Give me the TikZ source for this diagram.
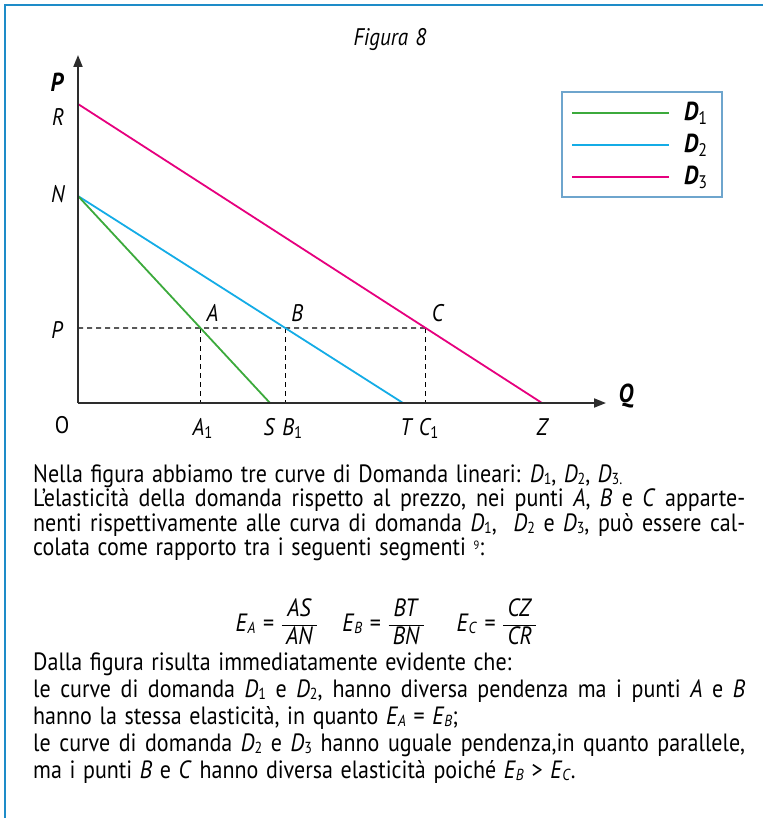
\documentclass[tikz,border=0pt]{standalone}
\usepackage{fontspec}
\usepackage{amsmath}
\setmainfont{PT Sans}[FakeStretch=0.88,WordSpace=1.3]
\usetikzlibrary{arrows.meta,calc}
\definecolor{frameblue}{RGB}{30,140,200}
\definecolor{boxblue}{RGB}{110,165,205}
\definecolor{dgreen}{RGB}{60,170,60}
\definecolor{dcyan}{RGB}{20,172,230}
\definecolor{dmagenta}{RGB}{230,0,126}
\definecolor{axisgray}{RGB}{45,45,45}
\newcommand{\lowsub}[1]{\raisebox{-2.5pt}{\fontsize{16}{16}\selectfont #1}}
\newcommand{\Dsub}[1]{\textit{D}\lowsub{#1}}
\newcommand{\Esub}[1]{\textit{E}\lowsub{\textit{#1}}}
\newcommand{\ratio}[2]{{\renewcommand{\arraystretch}{1.1}\setlength{\arrayrulewidth}{1pt}%
  \begin{tabular}[c]{@{\,}c@{\,}}\textit{#1}\\\hline\textit{#2}\end{tabular}}}
\newcommand{\fullline}[1]{\makebox[712pt][s]{#1}}

\begin{document}
\begin{tikzpicture}[x=1pt,y=-1pt,
  lbl/.style={font=\fontsize{24}{26}\selectfont\itshape,inner sep=0pt},
  axlbl/.style={font=\fontsize{26}{28}\selectfont\bfseries\itshape,inner sep=0pt},
  axis/.style={axisgray,line width=1.8pt,-{Triangle[length=12pt,width=9pt]}},
  guide/.style={black,line width=1.2pt,dash pattern=on 5pt off 4pt},
  curve/.style={line width=1.8pt},
  txt/.style={anchor=base west,inner sep=0pt,font=\fontsize{25}{24.5}\selectfont}]
\useasboundingbox (0,0) rectangle (763,818);
\draw[frameblue,line width=2.6pt] (5,818) -- (5,5) -- (763,5);
\node[lbl] (fig) at (390,40) {Figura 8};

\coordinate (O) at (78,403);
\coordinate (R) at (78,104);
\coordinate (N) at (78,196);
\coordinate (Pp) at (78,328);
\coordinate (Pr) at (700,328);
\coordinate (S) at (270,403);
\coordinate (T) at (403,403);
\coordinate (Z) at (542,403);
\coordinate (Ptop) at (78,55);
\coordinate (Qend) at (606,403);
\coordinate (A) at (intersection of N--S and Pp--Pr);
\coordinate (B) at (intersection of N--T and Pp--Pr);
\coordinate (C) at (intersection of R--Z and Pp--Pr);

\draw[guide] (Pp) -- (C);
\draw[guide] (A) -- (A |- O);
\draw[guide] (B) -- (B |- O);
\draw[guide] (C) -- (C |- O);
\draw[curve,dmagenta] (R) -- (Z);
\draw[curve,dcyan] (N) -- (T);
\draw[curve,dgreen] (N) -- (S);
\draw[axis] (O) -- (Ptop);
\draw[axis] (O) -- (Qend);

\node[axlbl] (axP) at (57,82) {P};
\node[axlbl] (axQ) at (626,396) {Q};
\node[lbl] (lR) at (58,117) {R};
\node[lbl] (lN) at (58,194) {N};
\node[lbl] (lP) at (57,330) {P};
\node[lbl,font=\fontsize{24}{26}\selectfont] (lO) at (62,425) {O};
\node[lbl,anchor=south west] (lA) at ($(A)+(6,-6)$) {A};
\node[lbl,anchor=south west] (lB) at ($(B)+(6,-6)$) {B};
\node[lbl,anchor=south west] (lC) at ($(C)+(6,-6)$) {C};
\node[lbl,anchor=base west] (lA1) at ($(A |- O)+(-8,32)$) {A\textsubscript{\upshape 1}};
\node[lbl,anchor=base] (lS) at ($(S)+(-1,32)$) {S};
\node[lbl,anchor=base west] (lB1) at ($(B |- O)+(-3,32)$) {B\textsubscript{\upshape 1}};
\node[lbl,anchor=base] (lT) at ($(T)+(3,32)$) {T};
\node[lbl,anchor=base west] (lC1) at ($(C |- O)+(-7,32)$) {C\textsubscript{\upshape 1}};
\node[lbl,anchor=base] (lZ) at ($(Z)+(0,32)$) {Z};

\draw[boxblue,line width=1.2pt] (562,92) rectangle (722,197);
\draw[curve,dgreen] (572,113) -- (669,113);
\draw[curve,dcyan] (572,145) -- (669,145);
\draw[curve,dmagenta] (572,177) -- (669,177);
\node[axlbl,anchor=west] (leg1) at (684,113) {D\textsubscript{\mdseries\upshape 1}};
\node[axlbl,anchor=west] (leg2) at (684,145) {D\textsubscript{\mdseries\upshape 2}};
\node[axlbl,anchor=west] (leg3) at (684,177) {D\textsubscript{\mdseries\upshape 3}};

\node[txt] (intro) at (33,482) {\parbox[t]{712pt}{\lineskiplimit=-\maxdimen
  Nella figura abbiamo tre curve di Domanda lineari: \Dsub{1}, \Dsub{2}, \Dsub{3.}\\
  \fullline{L’elasticità della domanda rispetto al prezzo, nei punti \textit{A}, \textit{B} e \textit{C} apparte-}\\
  \fullline{nenti rispettivamente alle curva di domanda \Dsub{1},\ \ \Dsub{2} e \Dsub{3}, può essere cal-}\\
  colata come rapporto tra i seguenti segmenti\ \raisebox{6pt}{\fontsize{12}{12}\selectfont 9}:}};
\node[txt,anchor=center] (eq) at (386,625) {\Esub{A} = \ratio{AS}{AN}\quad \Esub{B} = \ratio{BT}{BN}\quad\ \Esub{C} = \ratio{CZ}{CR}};
\node[txt,font=\fontsize{25}{27}\selectfont] (concl) at (33,670) {\parbox[t]{712pt}{\lineskiplimit=-\maxdimen
  Dalla figura risulta immediatamente evidente che:\\
  \fullline{le curve di domanda \Dsub{1} e \Dsub{2}, hanno diversa pendenza ma i punti \textit{A} e \textit{B}}\\
  hanno la stessa elasticità, in quanto \Esub{A} = \Esub{B};\\
  \fullline{le curve di domanda \Dsub{2} e \Dsub{3} hanno uguale pendenza,in quanto parallele,}\\
  ma i punti \textit{B} e \textit{C} hanno diversa elasticità poiché \Esub{B} > \Esub{C}.}};
\end{tikzpicture}
\end{document}
